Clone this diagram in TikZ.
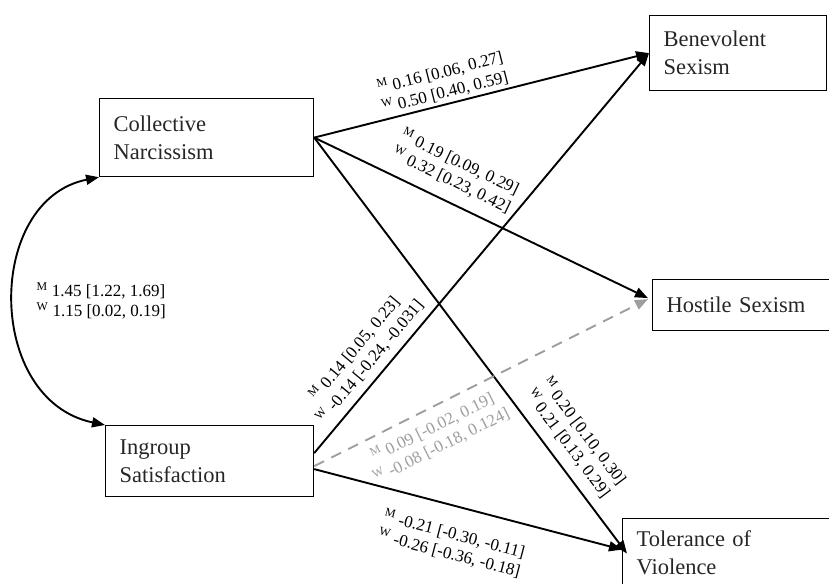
\documentclass[tikz,border=0pt]{standalone}
\usepackage{fontspec}
\setmainfont{Liberation Serif}
\usetikzlibrary{arrows.meta}
\definecolor{nsgray}{RGB}{158,158,158}

\begin{document}
\begin{tikzpicture}[
  x=1pt,y=-1pt,
  line/.style={line width=1.9pt,-{Triangle[length=13pt,width=10pt]}},
  nsline/.style={line width=1.9pt,nsgray,dash pattern=on 11pt off 8pt,-{Triangle[length=13pt,width=10pt]}},
  box/.style={draw,line width=1.2pt,anchor=north west,inner xsep=14pt,inner ysep=0pt,
    align=left,text=black!85,font=\fontsize{22.5}{28}\selectfont},
  est/.style={font=\fontsize{17}{20}\selectfont,align=center,sloped,inner sep=2pt}]
  \useasboundingbox (0,0) rectangle (829,583);
  \clip (0,0) rectangle (829,583);
  % variables
  \node[box,text width=186pt,minimum height=78pt] (cn) at (99,98) {Collective\\Narcissism};
  \node[box,text width=180pt,minimum height=71pt] (is) at (105,425) {Ingroup\\Satisfaction};
  \node[box,text width=149pt,minimum height=75pt] (bs) at (649,15) {Benevolent\\Sexism};
  \node[box,text width=162pt,minimum height=51pt] (hs) at (652,279) {Hostile Sexism};
  \node[box,text width=187pt,minimum height=68pt] (tv) at (622,518) {Tolerance of\\Violence};
  % covariance
  \draw[line,{Triangle[length=13pt,width=10pt]}-{Triangle[length=13pt,width=10pt]}]
    (cn.south west) .. controls (-15,200) and (-15,400) .. (is.north west);
  \node[font=\fontsize{17}{20}\selectfont,align=left,anchor=west] (cov) at (33,301)
    {\textsuperscript{M} 1.45 [1.22, 1.69]\\\textsuperscript{W} 1.15 [0.02, 0.19]};
  % paths from collective narcissism
  \draw[line] (cn.east) -- node[est,above=1pt,pos=.40] (cnbs)
    {\textsuperscript{M} 0.16 [0.06, 0.27]\\\textsuperscript{W} 0.50 [0.40, 0.59]} (bs.west);
  \draw[line] (cn.east) -- node[est,above=10pt,pos=.384] (cnhs)
    {\textsuperscript{M} 0.19 [0.09, 0.29]\\\textsuperscript{W} 0.32 [0.23, 0.42]} ([xshift=-4pt,yshift=7pt]hs.west);
  \draw[line] (cn.east) -- node[est,above=8pt,pos=.763] (cntv)
    {\textsuperscript{M} 0.20 [0.10, 0.30]\\\textsuperscript{W} 0.21 [0.13, 0.29]} ([xshift=5pt,yshift=-1pt]tv.west);
  % paths from ingroup satisfaction
  \draw[line] ([yshift=8pt]is.east) -- node[est,above=5pt,pos=.204] (isbs)
    {\textsuperscript{M} 0.14 [0.05, 0.23]\\\textsuperscript{W} -0.14 [-0.24, -0.031]} (bs.west);
  \draw[nsline] ([yshift=-5pt]is.east) -- node[est,below=7pt,pos=.33,text=nsgray] (ishs)
    {\textsuperscript{M} 0.09 [-0.02, 0.19]\\\textsuperscript{W} -0.08 [-0.18, 0.124]} ([xshift=-4pt,yshift=6pt]hs.west);
  \draw[line] ([yshift=-8pt]is.east) -- node[est,below=16pt,pos=.478] (istv)
    {\textsuperscript{M} -0.21 [-0.30, -0.11]\\\textsuperscript{W} -0.26 [-0.36, -0.18]} ([yshift=3pt]tv.west);
\end{tikzpicture}
\end{document}
